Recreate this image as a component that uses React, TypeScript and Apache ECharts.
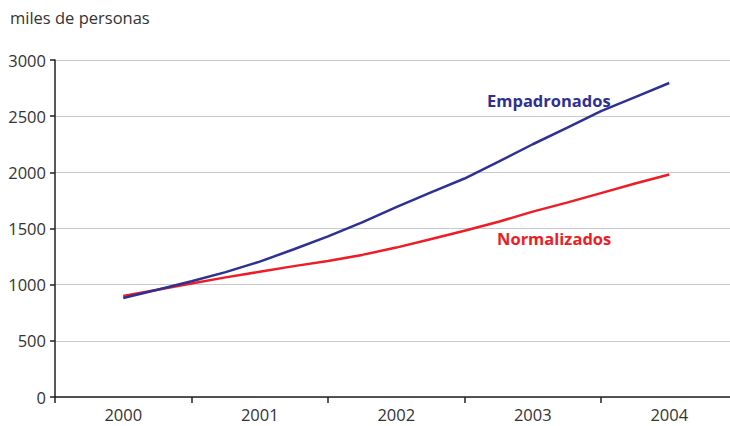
import React, { useEffect, useRef } from "react";
import * as echarts from "echarts";

const years = ["2000", "2001", "2002", "2003", "2004"];
const periods = [2000, 2000.25, 2000.5, 2000.75, 2001, 2001.25, 2001.5, 2001.75, 2002, 2002.25, 2002.5, 2002.75, 2003, 2003.25, 2003.5, 2003.75, 2004];
const empadronados = [881, 955, 1030, 1112, 1205, 1315, 1430, 1555, 1690, 1820, 1945, 2095, 2250, 2395, 2545, 2670, 2795];
const normalizados = [899, 955, 1010, 1065, 1115, 1165, 1210, 1265, 1330, 1405, 1480, 1560, 1650, 1730, 1815, 1900, 1980];
const yTicks = [0, 500, 1000, 1500, 2000, 2500, 3000];

const FONT = "'Open Sans', Lato, sans-serif";
const BLUE = "#2e3192";
const RED = "#ee1c25";

export default function App() {
  const ref = useRef<HTMLDivElement>(null);
  useEffect(() => {
    if (!ref.current) return;
    const chart = echarts.init(ref.current, undefined, { renderer: "svg" });
    chart.setOption({
      animation: false,
      backgroundColor: "#ffffff",
      grid: { left: 55, top: 60, bottom: 29, width: 682.5, containLabel: false, outerBoundsMode: "none" },
      xAxis: [
        {
          type: "category",
          data: years,
          boundaryGap: true,
          axisLine: { lineStyle: { color: "#222", width: 1.5 } },
          axisTick: { show: true, length: 6, lineStyle: { color: "#222", width: 1.5 } },
          axisLabel: { color: "#333", fontSize: 16.5, fontFamily: FONT, margin: 9 },
          splitLine: { show: false },
        },
        {
          type: "value",
          min: 1999.5,
          max: 2004.5,
          show: false,
          splitLine: { show: false },
        },
      ],
      yAxis: {
        type: "value",
        min: yTicks[0],
        max: yTicks[yTicks.length - 1],
        interval: 500,
        axisLine: { show: true, lineStyle: { color: "#222", width: 1.5 } },
        axisTick: { show: true, length: 5, lineStyle: { color: "#222", width: 1.5 } },
        axisLabel: { color: "#333", fontSize: 16.5, fontFamily: FONT, margin: 9, formatter: (v: number) => String(v) },
        splitLine: { lineStyle: { color: "#c8c8d2", width: 1.2 } },
      },
      series: [
        {
          name: "Normalizados",
          type: "line",
          xAxisIndex: 1,
          data: periods.map((p, i) => [p, normalizados[i]]),
          showSymbol: false,
          lineStyle: { color: RED, width: 2.5 },
          z: 3,
        },
        {
          name: "Empadronados",
          type: "line",
          xAxisIndex: 1,
          data: periods.map((p, i) => [p, empadronados[i]]),
          showSymbol: false,
          lineStyle: { color: BLUE, width: 2.5 },
          z: 4,
        },
      ],
      graphic: [
        {
          type: "text",
          left: 10,
          top: 9,
          style: { text: "miles de personas", fill: "#333", fontSize: 16.5, fontFamily: FONT },
        },
        {
          type: "text",
          left: 487,
          top: 92,
          style: { text: "Empadronados", fill: BLUE, fontSize: 16.5, fontWeight: "bold", fontFamily: FONT },
        },
        {
          type: "text",
          left: 497,
          top: 230,
          style: { text: "Normalizados", fill: RED, fontSize: 16.5, fontWeight: "bold", fontFamily: FONT },
        },
      ],
    });
    return () => chart.dispose();
  }, []);
  return <div ref={ref} style={{ width: 730, height: 426, position: "absolute", left: 0, top: 0 }} />;
}
